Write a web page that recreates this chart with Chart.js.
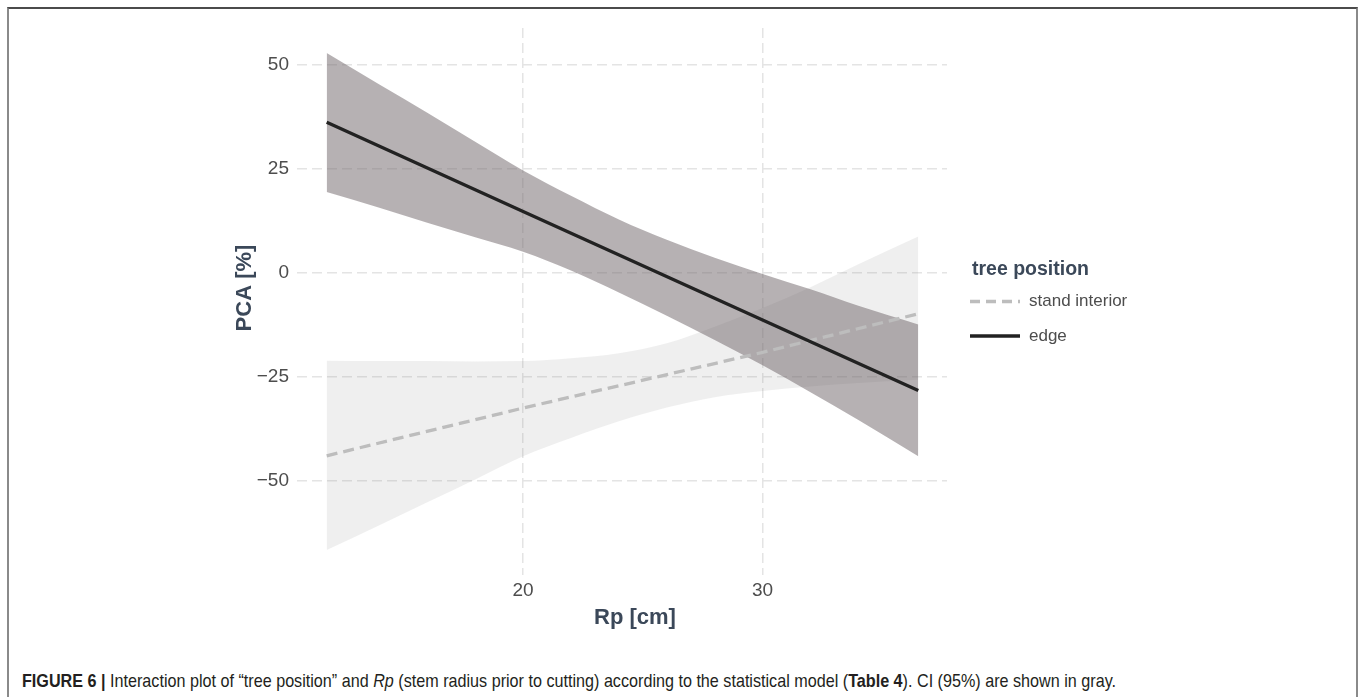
<!DOCTYPE html>
<html>
<head>
<meta charset="utf-8">
<script src="https://cdn.jsdelivr.net/npm/chart.js@4.4.1/dist/chart.umd.min.js"></script>
<style>
  body { margin: 0; background: #fff; width: 1358px; height: 697px; overflow: hidden; position: relative; }
  #frame { position: absolute; left: 7px; top: 7px; width: 1347px; height: 720px;
           border-top: 2px solid #4b4b4b; border-left: 2px solid #8a8a8a; border-right: 2px solid #8a8a8a; }
  #wrap { position: absolute; left: 0; top: 0; width: 1358px; height: 640px; }
  #caption { position: absolute; left: 22px; top: 671px; white-space: nowrap; transform-origin: 0 0;
             font-family: "Liberation Sans Narrow", "Liberation Sans", Arial, sans-serif; font-size: 19px;
             line-height: 20px; color: #231f20; }
</style>
</head>
<body>
<div id="frame"></div>
<div id="wrap"><canvas id="grafico" width="1358" height="640"></canvas></div>
<div id="caption"><b>FIGURE 6 |</b> Interaction plot of “tree position” and <i>Rp</i> (stem radius prior to cutting) according to the statistical model (<b>Table 4</b>). CI (95%) are shown in gray.</div>
<script>
// valores
const xTicks = [20, 30];
const yTicks = [-50, -25, 0, 25, 50];

const xLinha = [11.8, 20, 30, 36.5];
const edge = [36.2, 14.7, -11.4, -28.4];
const interior = [-44.1, -32.6, -19.2, -9.9];

const xFaixa = [11.8, 14, 16, 18, 20, 22, 24, 26, 28, 30, 32, 34, 36.5];
const edgeSup = [52.9, 45.3, 38.5, 31.5, 24.6, 18.5, 12.8, 7.9, 3.6, -0.3, -4.0, -8.0, -12.5];
const edgeInf = [19.4, 15.6, 12.0, 8.5, 5.0, 0.5, -4.8, -10.4, -16.2, -22.3, -28.8, -35.5, -44.2];
const interiorSup = [-21.2, -21.3, -21.3, -21.4, -21.3, -20.6, -19.4, -17.0, -13.0, -8.5, -3.5, 2.0, 8.7];
const interiorInf = [-66.8, -60.8, -55.3, -49.8, -44.2, -39.8, -35.8, -32.5, -30.0, -28.5, -27.4, -26.6, -25.8];

const legendaTitulo = "tree position";
const legendaItens = ["stand interior", "edge"];

function pontos(xs, ys) {
  return xs.map((x, i) => ({ x: x, y: ys[i] }));
}

const corTitulo = "#3b4859";
const corTexto = "#4d4d4d";

// titulos dos eixos e legenda desenhados a mao
const extras = {
  id: "extras",
  afterDraw(chart) {
    const ctx = chart.ctx;
    ctx.save();
    ctx.fillStyle = corTitulo;
    ctx.font = "bold 22px 'Liberation Sans', Arial, sans-serif";
    ctx.textAlign = "center";
    ctx.textBaseline = "middle";
    ctx.fillText("Rp [cm]", 635, 618);
    ctx.translate(245, 288);
    ctx.rotate(-Math.PI / 2);
    ctx.fillText("PCA [%]", 0, 0);
    ctx.restore();

    ctx.save();
    ctx.textAlign = "left";
    ctx.textBaseline = "middle";
    ctx.fillStyle = corTitulo;
    ctx.font = "bold 19.5px 'Liberation Sans', Arial, sans-serif";
    ctx.fillText(legendaTitulo, 972, 270);
    const estilos = [
      { cor: "#bdbdbd", dash: [10, 6] },
      { cor: "#222222", dash: [] }
    ];
    const ys = [301.5, 336];
    legendaItens.forEach((txt, i) => {
      ctx.strokeStyle = estilos[i].cor;
      ctx.lineWidth = 3.3;
      ctx.setLineDash(estilos[i].dash);
      ctx.beginPath();
      ctx.moveTo(970, ys[i]);
      ctx.lineTo(1020, ys[i]);
      ctx.stroke();
      ctx.setLineDash([]);
      ctx.fillStyle = corTexto;
      ctx.font = "17px 'Liberation Sans', Arial, sans-serif";
      ctx.fillText(txt, 1029, ys[i]);
    });
    ctx.restore();
  }
};

const faixa = {
  borderWidth: 0,
  pointRadius: 0,
  cubicInterpolationMode: "monotone"
};

const ctx = document.getElementById("grafico").getContext("2d");
new Chart(ctx, {
  type: "line",
  data: {
    datasets: [
      {
        label: "edge",
        data: pontos(xLinha, edge),
        borderColor: "#222222",
        borderWidth: 3.3,
        pointRadius: 0,
        fill: false
      },
      {
        label: "stand interior",
        data: pontos(xLinha, interior),
        borderColor: "#bdbdbd",
        borderWidth: 3.3,
        borderDash: [11, 6],
        pointRadius: 0,
        fill: false
      },
      Object.assign({
        label: "edge CI sup",
        data: pontos(xFaixa, edgeSup),
        backgroundColor: "rgba(110, 100, 104, 0.5)",
        fill: "+1"
      }, faixa),
      Object.assign({
        label: "edge CI inf",
        data: pontos(xFaixa, edgeInf),
        fill: false
      }, faixa),
      Object.assign({
        label: "interior CI sup",
        data: pontos(xFaixa, interiorSup),
        backgroundColor: "rgba(128, 128, 128, 0.13)",
        fill: "+1"
      }, faixa),
      Object.assign({
        label: "interior CI inf",
        data: pontos(xFaixa, interiorInf),
        fill: false
      }, faixa)
    ]
  },
  options: {
    responsive: false,
    animation: false,
    devicePixelRatio: 1,
    layout: { padding: { left: 0, top: 28, right: 411, bottom: 0 } },
    plugins: {
      legend: { display: false },
      tooltip: { enabled: false }
    },
    scales: {
      x: {
        type: "linear",
        min: 10.56,
        max: 37.7,
        afterBuildTicks: s => { s.ticks = xTicks.map(v => ({ value: v })); },
        afterFit: s => { s.height = 65; },
        grid: { color: "#e4e4e4", lineWidth: 1.5, drawTicks: false },
        border: { display: false, dash: [10, 5] },
        ticks: {
          padding: 4,
          color: corTexto,
          font: { family: "'Liberation Sans', Arial, sans-serif", size: 19 },
          maxRotation: 0
        }
      },
      y: {
        type: "linear",
        min: -72.8,
        max: 58.9,
        afterBuildTicks: s => { s.ticks = yTicks.map(v => ({ value: v })); },
        afterFit: s => { s.width = 297; },
        grid: { color: "#e4e4e4", lineWidth: 1.5, drawTicks: false },
        border: { display: false, dash: [10, 5] },
        ticks: {
          padding: 8,
          color: corTexto,
          font: { family: "'Liberation Sans', Arial, sans-serif", size: 19 },
          callback: v => (v < 0 ? "\u2212" + Math.abs(v) : String(v))
        }
      }
    }
  },
  plugins: [extras]
});

// ajusta a largura da legenda da figura
const cap = document.getElementById("caption");
const larg = cap.getBoundingClientRect().width;
cap.style.transform = "scaleX(" + (1094 / larg) + ")";
</script>
</body>
</html>
